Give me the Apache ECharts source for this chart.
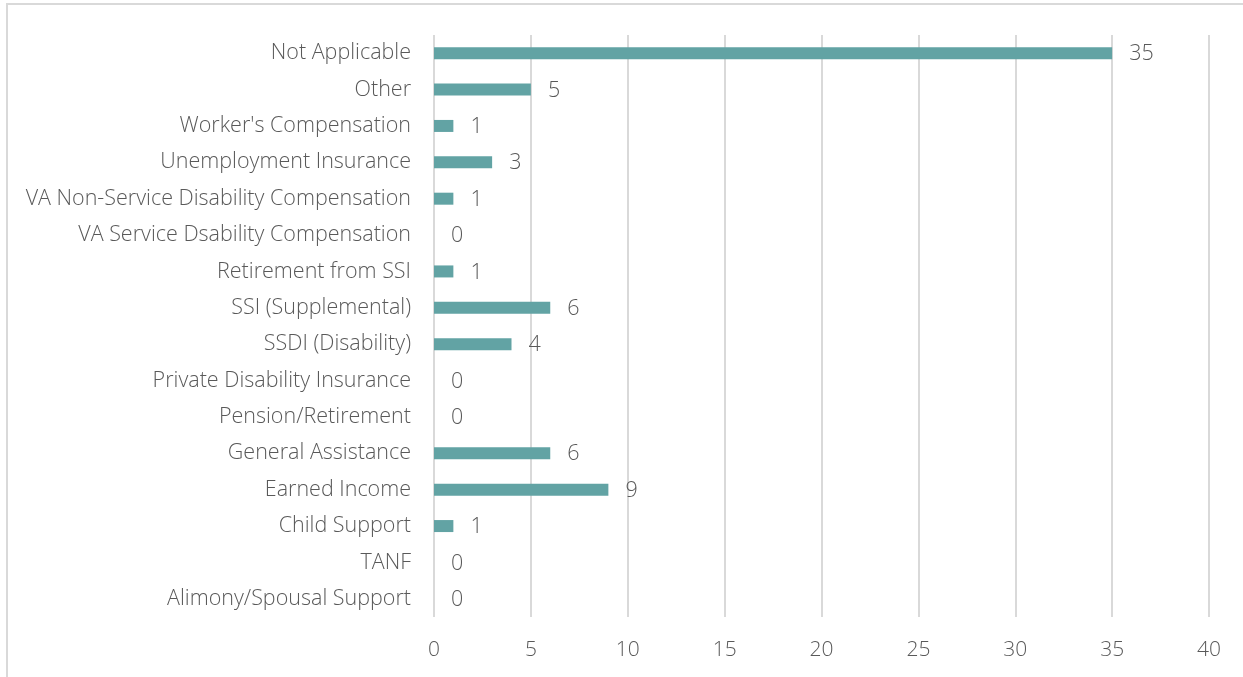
<!DOCTYPE html>
<html><head><meta charset="utf-8">
<script src="https://cdn.jsdelivr.net/npm/echarts@6/dist/echarts.min.js"></script>
<style>html,body{margin:0;padding:0;background:#fff}#c{width:1243px;height:677px}</style>
</head><body><div id="c"></div>
<script>
const categories = ["Alimony/Spousal Support","TANF","Child Support","Earned Income","General Assistance","Pension/Retirement","Private Disability Insurance","SSDI (Disability)","SSI (Supplemental)","Retirement from SSI","VA Service Dsability Compensation","VA Non-Service Disability Compensation","Unemployment Insurance","Worker's Compensation","Other","Not Applicable"];
const values = [0,0,1,9,6,0,0,4,6,1,0,1,3,1,5,35];
const xTicks = [0,5,10,15,20,25,30,35,40];

const chart = echarts.init(document.getElementById('c'), null, {renderer:'canvas'});
const font = "'Open Sans', sans-serif";
chart.setOption({
  animation:false,
  graphic:[{type:'rect',shape:{x:7,y:4,width:1300,height:700},style:{fill:'none',stroke:'#d9d9d9',lineWidth:2},silent:true}],
  grid:{left:434,right:34,top:35,bottom:60,containLabel:false},
  xAxis:{type:'value',min:xTicks[0],max:xTicks[xTicks.length-1],interval:5,
    axisLine:{show:false},axisTick:{show:false},
    axisLabel:{color:'#595959',fontSize:21,fontWeight:300,fontFamily:font,margin:23},
    splitLine:{lineStyle:{color:'#d9d9d9',width:2}}},
  yAxis:{type:'category',data:categories,
    axisLine:{show:false},axisTick:{show:false},
    axisLabel:{color:'#595959',fontSize:21.5,fontWeight:300,fontFamily:font,margin:23,padding:[5,0,0,0]}},
  series:[{type:'bar',data:values,barWidth:12,itemStyle:{color:'#62a3a4'},
    label:{show:true,position:'right',distance:17,color:'#595959',fontSize:21.5,fontWeight:300,fontFamily:font,offset:[0,1]}}]
});
</script></body></html>
